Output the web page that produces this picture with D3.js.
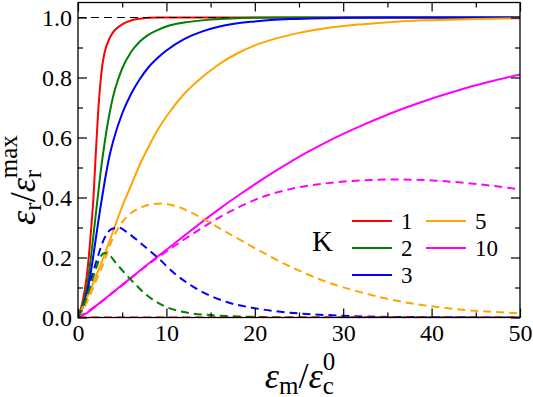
<!DOCTYPE html>
<html>
<head>
<meta charset="utf-8">
<script src="https://cdn.jsdelivr.net/npm/d3@7"></script>
<style>
  body { margin: 0; background: #fff; }
</style>
</head>
<body>
<div class="chart"></div>
<script>
// Dimensions & Constants
const W = 533, H = 397;
const plot = { left: 78, right: 520, top: 2.5, bottom: 317.5 };
const serif = '"Liberation Serif", "Times New Roman", Times';

// Axis ticks
const xTicks = [0, 10, 20, 30, 40, 50];
const xMinor = [5, 15, 25, 35, 45];
const yTicks = [0, 0.2, 0.4, 0.6, 0.8, 1.0];
const yMinor = [0.1, 0.3, 0.5, 0.7, 0.9];

// Legend
const kLabels = ['1', '2', '3', '5', '10'];
const kColors = ['#ff0000', '#008000', '#0000ff', '#ffa500', '#ff00ff'];

// Solid curves, [x, y]
const k1Solid = [[0,0],[0.5,0.05],[1,0.14],[1.5,0.3],[1.75,0.4],[2,0.54],[2.25,0.67],[2.5,0.77],[2.75,0.84],[3,0.882],[3.5,0.926],[4,0.952],[5,0.977],[6,0.99],[7,0.996],[8,0.999],[9,1],[50,1]];
const k2Solid = [[0,0],[0.5,0.04],[1,0.1],[1.5,0.21],[2,0.34],[2.5,0.47],[3,0.58],[3.5,0.67],[4,0.74],[4.5,0.79],[5,0.83],[6,0.885],[7,0.92],[8,0.943],[9,0.958],[10,0.97],[12,0.983],[15,0.993],[20,0.999],[25,1],[50,1]];
const k3Solid = [[0,0],[0.5,0.03],[1,0.08],[1.5,0.16],[2,0.26],[2.5,0.36],[3,0.45],[3.5,0.53],[4,0.59],[5,0.68],[6,0.745],[7,0.795],[8,0.835],[9,0.865],[10,0.89],[12,0.928],[14,0.953],[16,0.97],[20,0.987],[24,0.995],[30,0.999],[35,1],[50,1]];
const k5Solid = [[0,0],[1,0.065],[2,0.135],[3,0.21],[4,0.29],[5,0.37],[6,0.44],[7,0.51],[8,0.57],[9,0.625],[10,0.67],[12,0.745],[14,0.8],[16,0.845],[18,0.88],[20,0.907],[24,0.942],[28,0.964],[32,0.977],[36,0.986],[40,0.991],[45,0.995],[50,0.997]];
const k10Solid = [[0,0],[1,0.015],[2,0.038],[4,0.085],[6,0.132],[8,0.18],[10,0.226],[12,0.272],[14,0.318],[16,0.362],[18,0.404],[20,0.444],[22,0.482],[24,0.518],[26,0.552],[28,0.583],[30,0.612],[32,0.639],[35,0.676],[38,0.709],[41,0.739],[44,0.766],[47,0.789],[50,0.81]];

// Dashed curves, [x, y]
const k1Dashed = [[0,0],[50,0]];
const k2Dashed = [[0,0],[1,0.07],[2,0.16],[2.5,0.2],[3,0.215],[3.5,0.21],[4.2,0.185],[5.5,0.141],[6.5,0.11],[7.8,0.074],[10,0.035],[12,0.018],[15,0.008],[20,0.002],[25,0],[50,0]];
const k3Dashed = [[0,0],[0.8,0.058],[1.9,0.17],[3.0,0.265],[3.8,0.295],[4.6,0.30],[5.5,0.285],[7.0,0.25],[9,0.2],[11,0.145],[13,0.103],[15,0.072],[17,0.05],[20,0.031],[24,0.016],[30,0.006],[35,0.002],[50,0]];
const k5Dashed = [[0,0],[1,0.05],[2,0.12],[3,0.19],[3.6,0.24],[4.3,0.285],[5,0.318],[6,0.348],[7.2,0.368],[8.5,0.378],[9.5,0.38],[11,0.372],[12.8,0.35],[16.4,0.291],[20.2,0.228],[24,0.17],[27.8,0.122],[31.5,0.088],[36.4,0.054],[42.1,0.03],[50,0.014]];
const k10Dashed = [[0,0],[2,0.038],[5,0.108],[8,0.178],[10,0.22],[12,0.26],[14,0.298],[16,0.334],[18,0.365],[20,0.392],[24,0.428],[28,0.447],[32,0.457],[36,0.46],[40,0.457],[44,0.448],[50,0.427]];

const solids = [k1Solid, k2Solid, k3Solid, k5Solid, k10Solid];
const dashes = [k1Dashed, k2Dashed, k3Dashed, k5Dashed, k10Dashed];
const refLine = [[0, 1], [50, 1]];

// Build container.
const svg = d3.select('.chart')
    .append('svg')
        .attr('width', W)
        .attr('height', H);

// Build scales.
const x = d3.scaleLinear().domain([0, 50]).range([plot.left, plot.right]);
const y = d3.scaleLinear().domain([0, 1.05]).range([plot.bottom, plot.top]);

const line = d3.line()
    .x(d => x(d[0]))
    .y(d => y(d[1]))
    .curve(d3.curveMonotoneX);

svg.append('clipPath').attr('id', 'clip')
    .append('rect')
        .attr('x', plot.left).attr('y', plot.top)
        .attr('width', plot.right - plot.left)
        .attr('height', plot.bottom - plot.top);

const curves = svg.append('g').attr('clip-path', 'url(#clip)');

// Solid lines: red first, then the black reference, then the rest.
function drawSolid(i) {
    curves.append('path')
        .attr('d', line(solids[i]))
        .attr('fill', 'none')
        .attr('stroke', kColors[i])
        .attr('stroke-width', 2);
}
drawSolid(0);
curves.append('path')
    .attr('d', line(refLine))
    .attr('fill', 'none')
    .attr('stroke', '#000')
    .attr('stroke-width', 1.1)
    .attr('stroke-dasharray', '8,5');
[1, 2, 3, 4].forEach(drawSolid);

// Dashed lines, red on top.
[4, 3, 2, 1, 0].forEach(i => {
    curves.append('path')
        .attr('d', line(dashes[i]))
        .attr('fill', 'none')
        .attr('stroke', kColors[i])
        .attr('stroke-width', 2)
        .attr('stroke-dasharray', '8,5');
});

// Axes (ticks inward on all four sides).
function styleAxis(g) {
    g.attr('font-family', serif).attr('font-size', 24);
    g.select('.domain').remove();
    g.selectAll('.tick line').attr('stroke', '#000').attr('stroke-width', 1.2);
    g.selectAll('.tick text').attr('fill', '#000');
}

svg.append('g')
    .attr('transform', `translate(0,${plot.bottom})`)
    .call(d3.axisBottom(x).tickValues(xTicks).tickSize(-9).tickPadding(6).tickFormat(d3.format('d')))
    .call(styleAxis)
    .selectAll('.tick text').attr('dy', '0.71em');
svg.append('g')
    .attr('transform', `translate(0,${plot.bottom})`)
    .call(d3.axisBottom(x).tickValues(xMinor).tickSize(-5).tickFormat(''))
    .call(styleAxis);
svg.append('g')
    .attr('transform', `translate(0,${plot.top})`)
    .call(d3.axisTop(x).tickValues(xTicks).tickSize(-9).tickFormat(''))
    .call(styleAxis);
svg.append('g')
    .attr('transform', `translate(0,${plot.top})`)
    .call(d3.axisTop(x).tickValues(xMinor).tickSize(-5).tickFormat(''))
    .call(styleAxis);

svg.append('g')
    .attr('transform', `translate(${plot.left},0)`)
    .call(d3.axisLeft(y).tickValues(yTicks).tickSize(-9).tickPadding(6).tickFormat(d3.format('.1f')))
    .call(styleAxis);
svg.append('g')
    .attr('transform', `translate(${plot.left},0)`)
    .call(d3.axisLeft(y).tickValues(yMinor).tickSize(-5).tickFormat(''))
    .call(styleAxis);
svg.append('g')
    .attr('transform', `translate(${plot.right},0)`)
    .call(d3.axisRight(y).tickValues(yTicks).tickSize(-9).tickFormat(''))
    .call(styleAxis);
svg.append('g')
    .attr('transform', `translate(${plot.right},0)`)
    .call(d3.axisRight(y).tickValues(yMinor).tickSize(-5).tickFormat(''))
    .call(styleAxis);

// Frame.
svg.append('rect')
    .attr('x', plot.left).attr('y', plot.top)
    .attr('width', plot.right - plot.left)
    .attr('height', plot.bottom - plot.top)
    .attr('fill', 'none')
    .attr('stroke', '#000')
    .attr('stroke-width', 1.3);

// Legend.
const legend = svg.append('g').attr('font-family', serif);
const legendPos = [[352, 221], [352, 248], [352, 275], [426, 221], [426, 248]];
kLabels.forEach((k, i) => {
    const [lx, ly] = legendPos[i];
    legend.append('line')
        .attr('x1', lx).attr('x2', lx + 40)
        .attr('y1', ly).attr('y2', ly)
        .attr('stroke', kColors[i])
        .attr('stroke-width', 2);
    legend.append('text')
        .attr('x', lx + 49).attr('y', ly + 8)
        .attr('font-size', 23)
        .text(k);
});
legend.append('text')
    .attr('x', 312).attr('y', 251)
    .attr('font-size', 29)
    .text('K');

// Rich labels with stacked sub/superscripts.
function richLabel(g, pieces) {
    g.attr('font-family', serif);
    let pos = 0, prevStart = 0, prevW = 0;
    pieces.forEach(p => {
        const start = p.stack ? prevStart : pos;
        const t = g.append('text')
            .attr('x', start).attr('y', p.dy || 0)
            .attr('font-size', p.size)
            .attr('font-style', p.italic ? 'italic' : 'normal')
            .text(p.t);
        const w = t.node().getComputedTextLength();
        if (p.stack) {
            pos = start + Math.max(prevW, w);
        } else {
            prevStart = start; prevW = w;
            pos = start + w;
        }
    });
    g.selectAll('text').attr('x', function () { return +d3.select(this).attr('x') - pos / 2; });
}

const xTitle = svg.append('g').attr('transform', 'translate(300,388)');
richLabel(xTitle, [
    { t: 'ε', size: 36, italic: true },
    { t: 'm', size: 25, dy: 6 },
    { t: '/', size: 36 },
    { t: 'ε', size: 36, italic: true },
    { t: 'c', size: 25, dy: 6 },
    { t: '0', size: 25, dy: -18, stack: true }
]);

const yTitle = svg.append('g').attr('transform', 'translate(35,180) rotate(-90)');
richLabel(yTitle, [
    { t: 'ε', size: 36, italic: true },
    { t: 'r', size: 25, dy: 6 },
    { t: '/', size: 36 },
    { t: 'ε', size: 36, italic: true },
    { t: 'r', size: 25, dy: 6 },
    { t: 'max', size: 25, dy: -18, stack: true }
]);
</script>
</body>
</html>
